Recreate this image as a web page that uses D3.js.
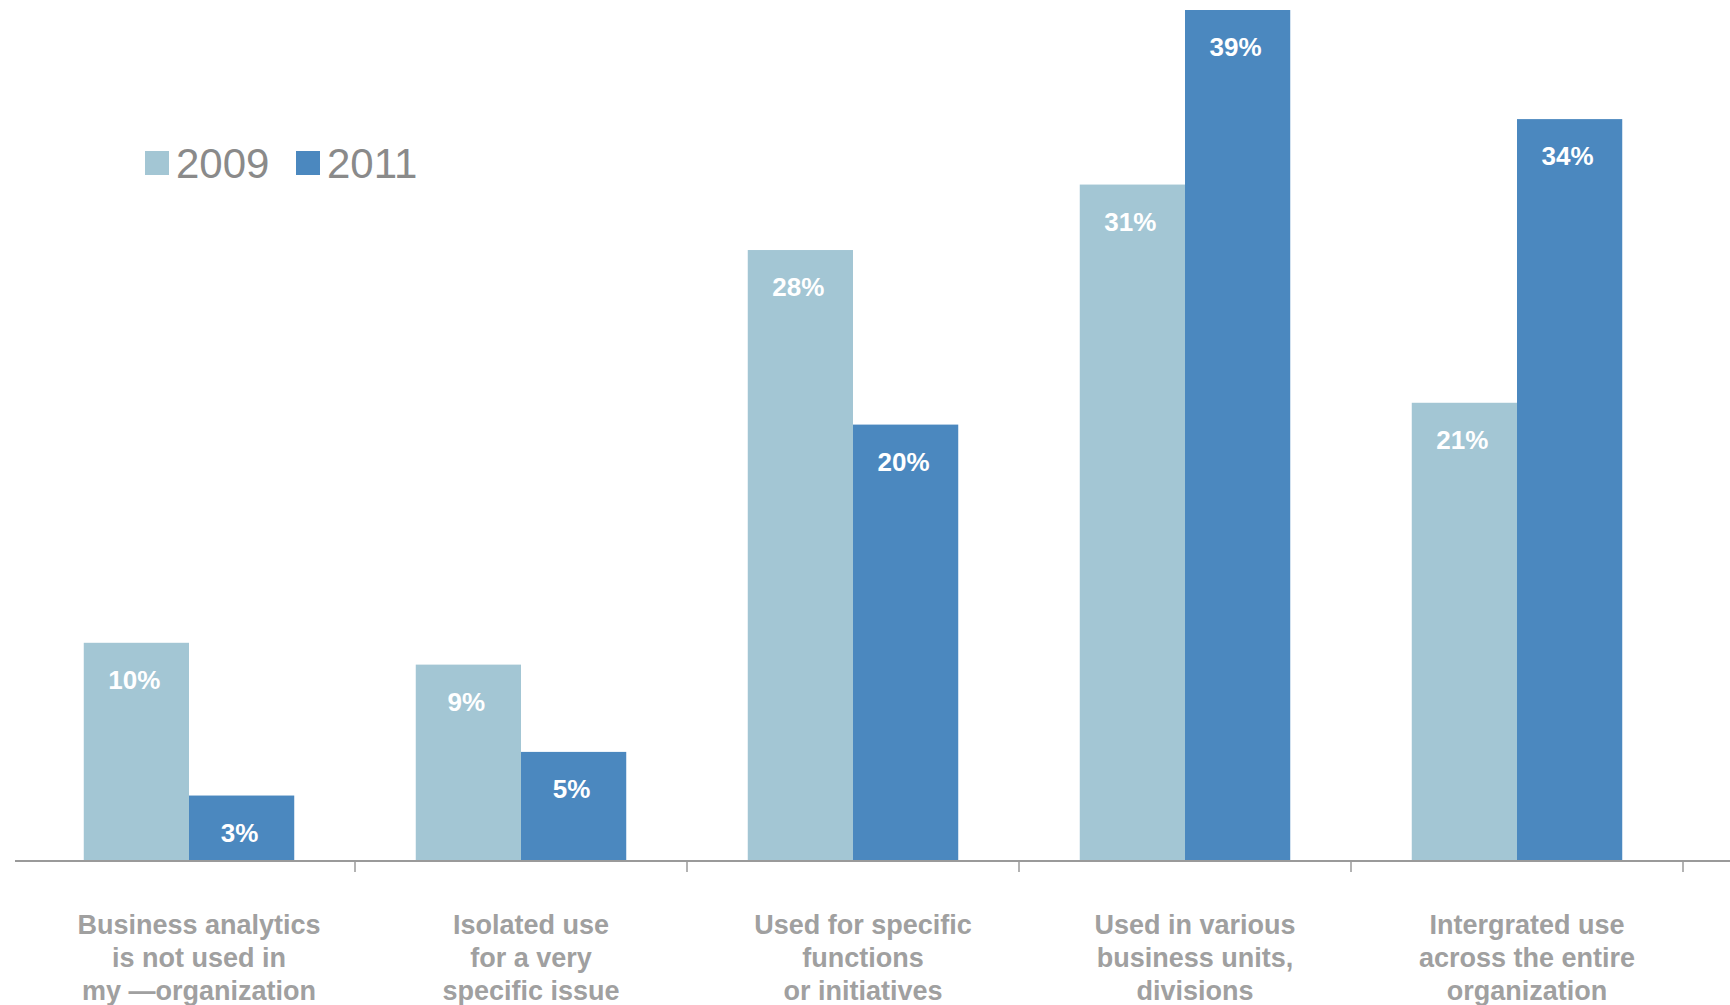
<!DOCTYPE html>
<html>
<head>
<meta charset="utf-8">
<script src="https://cdn.jsdelivr.net/npm/d3@7"></script>
<style>
  body { margin: 0; background: #fff; }
  svg { display: block; }
  text { font-family: "Liberation Sans", Arial, Helvetica, sans-serif; }
</style>
</head>
<body>
<div id="chart"></div>
<script>
// data
var categories = [
  ["Business analytics", "is not used in", "my \u2014organization"],
  ["Isolated use", "for a very", "specific issue"],
  ["Used for specific", "functions", "or initiatives"],
  ["Used in various", "business units,", "divisions"],
  ["Intergrated use", "across the entire", "organization"]
];
var seriesNames = ["2009", "2011"];
var values2009 = [10, 9, 28, 31, 21];
var values2011 = [3, 5, 20, 39, 34];

var width = 1730, height = 1005;
var baseY = 861;
var colors = ["#a3c6d4", "#4b88bf"];

var rows = categories.map(function(c, i) {
  return { idx: i, lines: c, vals: [values2009[i], values2011[i]] };
});

var svg = d3.select("#chart").append("svg")
  .attr("width", width)
  .attr("height", height);

////////// scales //////////
var x0 = d3.scaleBand()
  .domain(d3.range(categories.length))
  .range([23, 1683])
  .paddingInner(0.366)
  .paddingOuter(0.183);

var x1 = d3.scaleBand()
  .domain(d3.range(seriesNames.length))
  .range([0, x0.bandwidth()]);

var y = d3.scaleLinear()
  .domain([0, 39])
  .range([baseY, 10]);

var color = d3.scaleOrdinal().domain(d3.range(2)).range(colors);

////////// bars //////////
var groups = svg.selectAll("g.grp")
  .data(rows)
  .enter().append("g")
  .attr("class", "grp")
  .attr("transform", function(d) { return "translate(" + x0(d.idx) + ",0)"; });

groups.selectAll("rect")
  .data(function(d) { return d.vals.map(function(v, k) { return { k: k, v: v }; }); })
  .enter().append("rect")
  .attr("x", function(d) { return x1(d.k); })
  .attr("y", function(d) { return y(d.v); })
  .attr("width", x1.bandwidth())
  .attr("height", function(d) { return baseY - y(d.v); })
  .attr("fill", function(d) { return color(d.k); });

groups.selectAll("text.val")
  .data(function(d) { return d.vals.map(function(v, k) { return { k: k, v: v }; }); })
  .enter().append("text")
  .attr("class", "val")
  .attr("x", function(d) { return x1(d.k) + x1.bandwidth() / 2 - 2; })
  .attr("y", function(d) { return y(d.v) + 46; })
  .attr("text-anchor", "middle")
  .attr("fill", "#fff")
  .attr("font-size", "26px")
  .attr("font-weight", "bold")
  .text(function(d) { return d.v + "%"; });

////////// axis //////////
svg.append("line")
  .attr("x1", 15).attr("x2", width)
  .attr("y1", baseY).attr("y2", baseY)
  .attr("stroke", "#9a9a9a")
  .attr("stroke-width", 2);

svg.selectAll("line.tick")
  .data(rows)
  .enter().append("line")
  .attr("class", "tick")
  .attr("x1", function(d) { return x0(d.idx) + x0.bandwidth() + x0.step() * x0.paddingInner() / 2; })
  .attr("x2", function(d) { return x0(d.idx) + x0.bandwidth() + x0.step() * x0.paddingInner() / 2; })
  .attr("y1", baseY).attr("y2", baseY + 11)
  .attr("stroke", "#9a9a9a")
  .attr("stroke-width", 1.5);

var catLabels = svg.selectAll("text.cat")
  .data(rows)
  .enter().append("text")
  .attr("class", "cat")
  .attr("text-anchor", "middle")
  .attr("fill", "#a0a0a0")
  .attr("font-size", "27px")
  .attr("font-weight", "bold")
  .attr("transform", function(d) { return "translate(" + (x0(d.idx) + x0.bandwidth() / 2 + 10) + ",934)"; });

catLabels.selectAll("tspan")
  .data(function(d) { return d.lines; })
  .enter().append("tspan")
  .attr("x", 0)
  .attr("y", function(d, i) { return i * 33; })
  .text(function(d) { return d; });

////////// legend //////////
var legendX = [145, 296];
var legend = svg.selectAll("g.leg")
  .data(seriesNames)
  .enter().append("g")
  .attr("class", "leg")
  .attr("transform", function(d, i) { return "translate(" + legendX[i] + ",151)"; });

legend.append("rect")
  .attr("width", 24).attr("height", 24)
  .attr("fill", function(d, i) { return color(i); });

legend.append("text")
  .attr("x", 31)
  .attr("y", 27)
  .attr("fill", "#8a8a8a")
  .attr("font-size", "42px")
  .text(function(d) { return d; });
</script>
</body>
</html>
